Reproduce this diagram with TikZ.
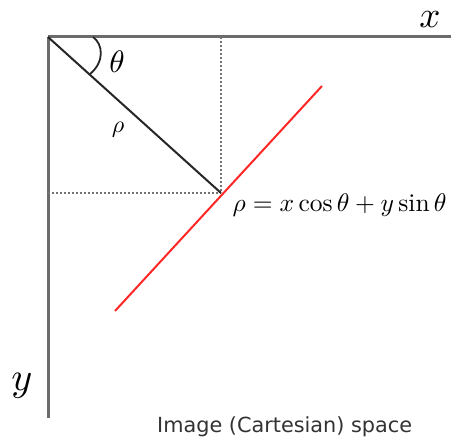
\documentclass[tikz,border=0pt]{standalone}
\usepackage{amsmath}
\usepackage{amssymb}
\usepackage{fontspec}
\newfontfamily\captionfont{DejaVu Sans}
\usetikzlibrary{calc}

\begin{document}
\begin{tikzpicture}[x=1pt,y=-1pt]
	\useasboundingbox (0,0) rectangle (451,441);
	% Puntos principales
	\coordinate (O) at (48,37);
	\coordinate (P) at (221,193);
	\coordinate (xend) at (451,37);
	\coordinate (yend) at (48,418);
	\coordinate (R1) at (322,86);
	\coordinate (R2) at (115,311);
	
	% Ejes coordenados
	\draw[line width=3pt, black!58] (O) -- (xend);
	\draw[line width=3pt, black!58] (O) -- (yend);
	\node[scale=3.7, inner sep=0pt] (xlab) at (430,20) {$x$};
	\node[scale=4, inner sep=0pt] (ylab) at (22,386) {$y$};
	
	% Proyecciones punteadas
	\draw[dash pattern=on 2pt off 2pt, line width=1.9pt, black!55] (P |- O) -- (P);
	\draw[dash pattern=on 2pt off 2pt, line width=1.9pt, black!55] (O |- P) -- (P);
	
	% Segmento rho y angulo
	\draw[line width=2pt, black!85] (O) -- (P);
	\draw[line width=1.8pt, black!85] (93,37) .. controls (103,44) and (105,62) .. ($(O)!0.24!(P)$);
	\node[scale=3.1] (theta) at (117,62) {$\theta$};
	\node[scale=2.4] (rho) at (118,130) {$\rho$};
	
	% Recta en rojo
	\draw[line width=2pt, red!85] (R1) -- (R2);
	\node[scale=2.55, anchor=base west, inner sep=0pt] (eq) at (232,212) {$\rho = x\cos\theta + y\sin\theta$};
	
	% Titulo
	\node[anchor=base west, inner sep=0pt, font=\captionfont\fontsize{20.8}{22}\selectfont, black!80] (title) at (157,433) {Image (Cartesian) space};
\end{tikzpicture}
\end{document}
